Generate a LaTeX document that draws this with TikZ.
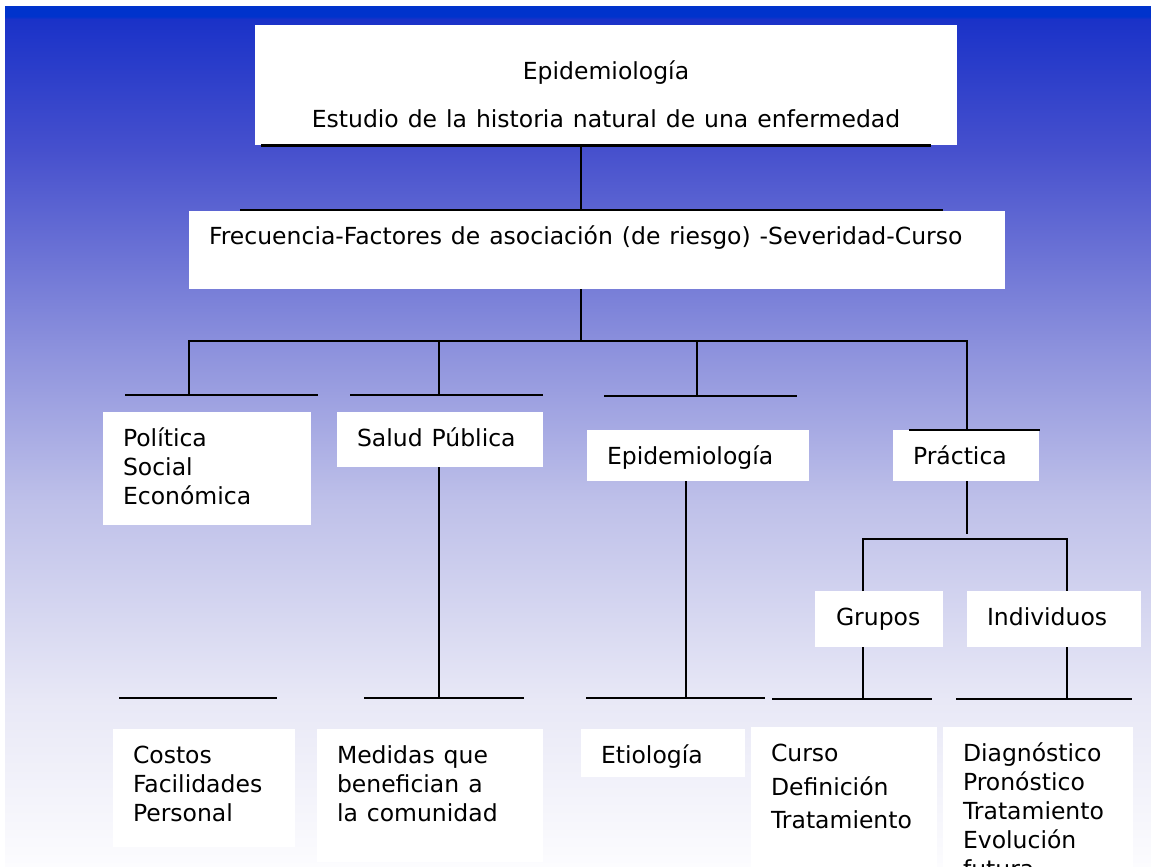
\documentclass[tikz,border=0pt]{standalone}
\usepackage{fontspec}
\setmainfont[WordSpace=1.2]{DejaVu Sans}
\definecolor{bgA}{RGB}{252,252,254}
\definecolor{bgB}{RGB}{232,232,246}
\definecolor{bgC}{RGB}{190,192,233}
\definecolor{bgD}{RGB}{138,143,220}
\definecolor{bgE}{RGB}{70,80,205}
\definecolor{bgF}{RGB}{26,50,200}
\definecolor{bgG}{RGB}{0,51,204}
\pgfdeclareverticalshading{bgshade}{100bp}{color(0bp)=(bgA); color(25bp)=(bgA); color(34.7bp)=(bgB); color(46.3bp)=(bgC); color(55.6bp)=(bgD); color(66.7bp)=(bgE); color(74.3bp)=(bgF); color(74.45bp)=(bgG); color(75bp)=(bgG); color(100bp)=(bgG)}
\newcommand{\fs}{\fontsize{23.5pt}{29pt}\selectfont}
\tikzset{
  box/.style={fill=white, draw=none, inner sep=0pt, outer sep=0pt, anchor=north west},
  lbl/.style={anchor=base west, inner sep=0pt, outer sep=0pt, font=\fs},
  ctr/.style={anchor=base, inner sep=0pt, outer sep=0pt, font=\fs},
  ln/.style={line width=2pt, draw=black},
}
\begin{document}
\begin{tikzpicture}[x=1pt,y=-1pt]
\useasboundingbox (0,0) rectangle (1151,867);
\fill[white] (0,0) rectangle (1151,867);
\shade[shading=bgshade] (5,7) rectangle (1151,867);

% boxes
\node[box, minimum width=702pt, minimum height=120pt] (b0) at (255,25) {};
\node[box, minimum width=816pt, minimum height=78pt] (b1) at (189,211) {};
\node[box, minimum width=208pt, minimum height=113pt] (bpol) at (103,412) {};
\node[box, minimum width=206pt, minimum height=55pt] (bsal) at (337,412) {};
\node[box, minimum width=222pt, minimum height=51pt] (bepi) at (587,430) {};
\node[box, minimum width=146pt, minimum height=51pt] (bpra) at (893,430) {};
\node[box, minimum width=128pt, minimum height=56pt] (bgru) at (815,591) {};
\node[box, minimum width=174pt, minimum height=56pt] (bind) at (967,591) {};
\node[box, minimum width=182pt, minimum height=118pt] (bcos) at (113,729) {};
\node[box, minimum width=226pt, minimum height=133pt] (bmed) at (317,729) {};
\node[box, minimum width=164pt, minimum height=48pt] (beti) at (581,729) {};
\node[box, minimum width=186pt, minimum height=140pt] (bcur) at (751,727) {};
\node[box, minimum width=190pt, minimum height=140pt] (bdia) at (943,727) {};

% texts
\node[ctr] (t0a) at (606,80) {Epidemiología};
\node[ctr] (t0b) at (606,127) {Estudio de la historia natural de una enfermedad};
\node[lbl] (t1) at (209,244) {Frecuencia-Factores de asociación (de riesgo) -Severidad-Curso};
\node[lbl] (tpol1) at (123,446) {Política};
\node[lbl] (tpol2) at (123,475) {Social};
\node[lbl] (tpol3) at (123,504) {Económica};
\node[lbl] (tsal) at (357,446) {Salud Pública};
\node[lbl] (tepi) at (607,464) {Epidemiología};
\node[lbl] (tpra) at (913,464) {Práctica};
\node[lbl] (tgru) at (836,625) {Grupos};
\node[lbl] (tind) at (987,625) {Individuos};
\node[lbl] (tcos1) at (133,763) {Costos};
\node[lbl] (tcos2) at (133,792) {Facilidades};
\node[lbl] (tcos3) at (133,821) {Personal};
\node[lbl] (tmed1) at (337,763) {Medidas que};
\node[lbl] (tmed2) at (337,792) {benefician a};
\node[lbl] (tmed3) at (337,821) {la comunidad};
\node[lbl] (teti) at (601,763) {Etiología};
\node[lbl] (tcur1) at (771,761) {Curso};
\node[lbl] (tcur2) at (771,795) {Definición};
\node[lbl] (tcur3) at (771,828) {Tratamiento};
\node[lbl] (tdia1) at (963,761) {Diagnóstico};
\node[lbl] (tdia2) at (963,790) {Pronóstico};
\node[lbl] (tdia3) at (963,819) {Tratamiento};
\node[lbl] (tdia4) at (963,848) {Evolución};
\node[lbl] (tdia5) at (963,877) {futura};

% coordinates
\coordinate (u0L) at (261,145); \coordinate (u0R) at (931,145);
\coordinate (u1L) at (240,210); \coordinate (u1R) at (943,210);
\coordinate (j0) at (581,145);
\coordinate (j1) at (581,341);
\coordinate (uPolL) at (125,395); \coordinate (uPolR) at (318,395);
\coordinate (uSalL) at (350,395); \coordinate (uSalR) at (543,395);
\coordinate (uEpiL) at (604,396); \coordinate (uEpiR) at (797,396);
\coordinate (uPraL) at (909,430); \coordinate (uPraR) at (1040,430);
\coordinate (tPol) at (189,395);
\coordinate (tSal) at (439,395);
\coordinate (tEpi) at (697,396);
\coordinate (tPra) at (967,430);
\coordinate (uCosL) at (119,698); \coordinate (uCosR) at (277,698);
\coordinate (uMedL) at (364,698); \coordinate (uMedR) at (524,698);
\coordinate (uEtiL) at (586,698); \coordinate (uEtiR) at (765,698);
\coordinate (uCurL) at (772,699); \coordinate (uCurR) at (932,699);
\coordinate (uDiaL) at (956,699); \coordinate (uDiaR) at (1132,699);
\coordinate (xEpi) at (686,481);
\coordinate (pEnd) at (967,534);
\coordinate (gBar) at (863,539);
\coordinate (xInd) at (1067,591);

% lines
\draw[line width=3pt] (u0L) -- (u0R);
\draw[ln] (j0) -- (j0 |- b1.north);
\draw[ln] (u1L) -- (u1R);
\draw[ln] (j0 |- b1.south) -- (j1);
\draw[ln] (tPol) |- (tPra |- j1) -- (tPra);
\draw[ln] (tSal) -- (tSal |- j1);
\draw[ln] (tEpi) -- (tEpi |- j1);
\draw[ln] (uPolL) -- (uPolR);
\draw[ln] (uSalL) -- (uSalR);
\draw[ln] (uEpiL) -- (uEpiR);
\draw[line width=1.2pt] (uPraL) -- (uPraR);
\draw[ln] (tSal |- bsal.south) -- (tSal |- uMedL);
\draw[ln] (xEpi) -- (xEpi |- uEtiL);
\draw[ln] (tPra |- bpra.south) -- (pEnd);
\draw[ln] (gBar |- bgru.north) |- (xInd |- gBar) -- (xInd);
\draw[ln] (gBar |- bgru.south) -- (gBar |- uCurL);
\draw[ln] (xInd |- bind.south) -- (xInd |- uDiaL);
\draw[ln] (uCosL) -- (uCosR);
\draw[ln] (uMedL) -- (uMedR);
\draw[ln] (uEtiL) -- (uEtiR);
\draw[ln] (uCurL) -- (uCurR);
\draw[ln] (uDiaL) -- (uDiaR);
\end{tikzpicture}
\end{document}
